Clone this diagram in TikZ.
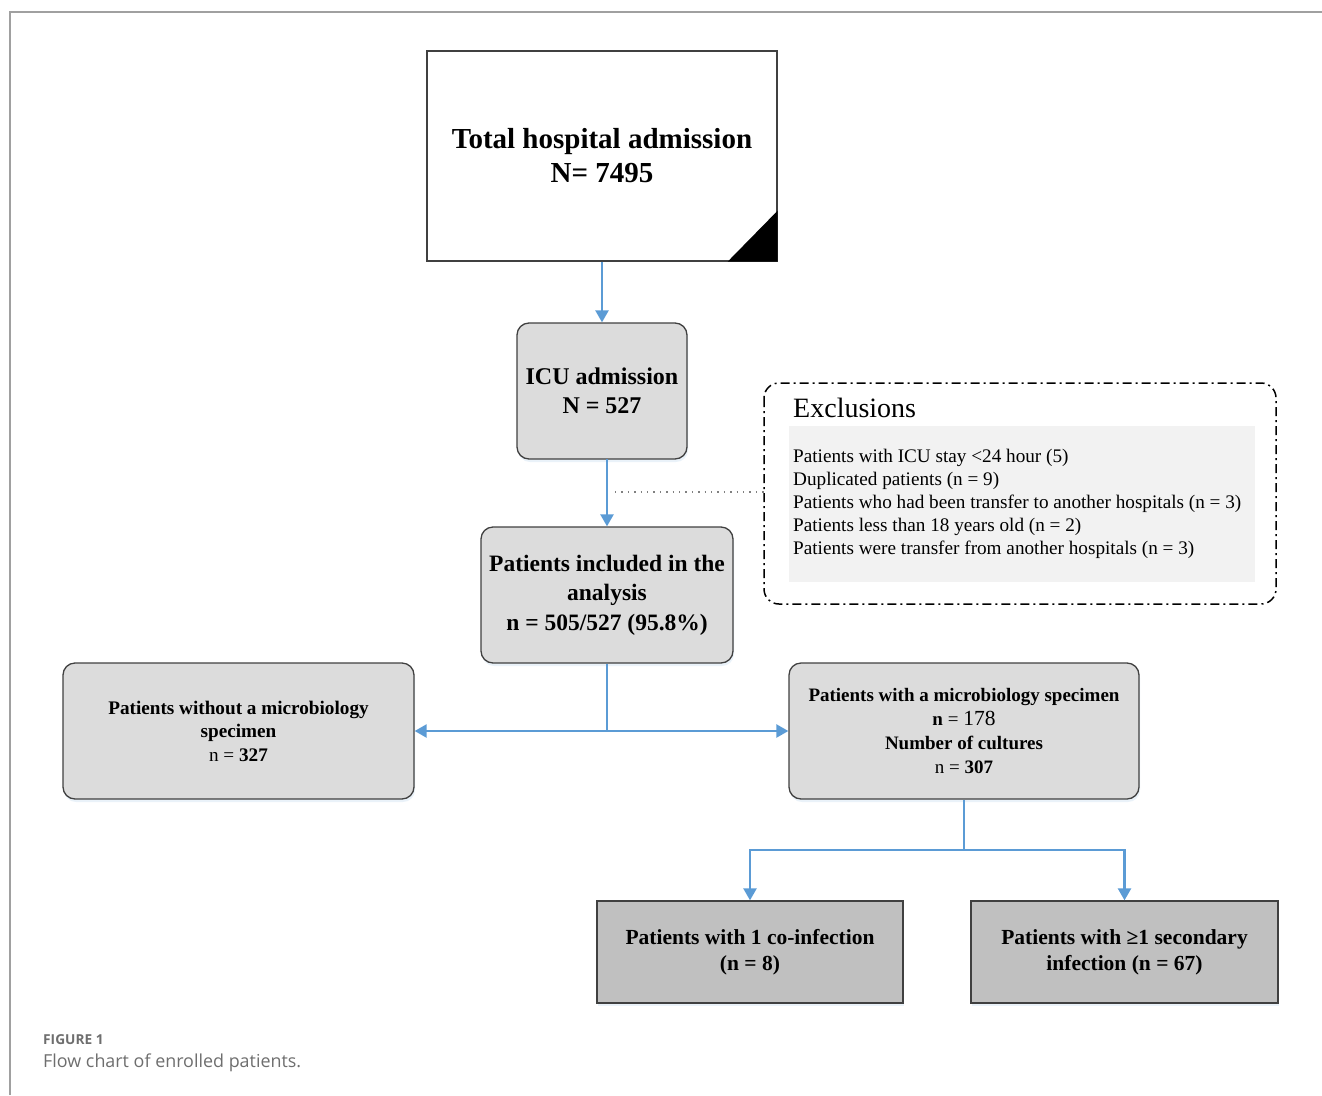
\documentclass[tikz,border=0pt]{standalone}
\usepackage{fontspec}
\setmainfont{Liberation Serif}
\newfontfamily\capfont{Open Sans}
\usetikzlibrary{arrows.meta,shadows}
\definecolor{flowblue}{RGB}{91,155,213}
\definecolor{boxgray}{RGB}{220,220,220}
\definecolor{darkgray2}{RGB}{192,192,192}
\definecolor{edgegray}{RGB}{64,64,64}
\definecolor{exclfill}{RGB}{242,242,242}
\definecolor{framegray}{RGB}{160,160,160}
\definecolor{capgray}{RGB}{110,110,110}
\begin{document}
\begin{tikzpicture}[x=1pt,y=-1pt,
  softshadow/.style={drop shadow={shadow xshift=1pt,shadow yshift=-3pt,fill=flowblue!25,opacity=0.5}},
  roundbox/.style={draw=edgegray,line width=1.3pt,fill=boxgray,rounded corners=12pt,align=center,inner sep=2pt,softshadow},
  flatbox/.style={draw=edgegray,line width=1.3pt,fill=darkgray2,align=center,inner sep=2pt,softshadow},
  flow/.style={draw=flowblue,line width=2.4pt},
  flowarrow/.style={flow,-{Triangle[width=13pt,length=12pt]}},
]
\useasboundingbox (0,0) rectangle (1322,1095);
% frame
\draw[framegray,line width=1.3pt] (10,1095) -- (10,12) -- (1322,12);

% top box
\node[draw=edgegray,line width=1.3pt,fill=white,minimum width=350pt,minimum height=210pt,inner sep=0pt,align=center,
  font=\fontsize{29}{34}\selectfont\bfseries] (total) at (602,156) {Total hospital admission\\N= 7495};
\fill[black] (total.south east) -- ++(-50,0) -- ++(50,-51) -- cycle;

% ICU
\node[roundbox,minimum width=170pt,minimum height=136pt,font=\fontsize{24}{29}\selectfont\bfseries] (icu) at (602,391) {ICU admission\\N = 527};
\draw[flowarrow] (total.south) -- (icu.north);

% included
\node[roundbox,minimum width=252pt,minimum height=136pt,font=\fontsize{23.5}{29.5}\selectfont\bfseries] (incl) at (607,595) {Patients included in the\\analysis\\n = 505/527 (95.8\%)};

% exclusions
\coordinate (exnw) at (764,383);
\coordinate (exse) at (1276,604);
\draw[line width=1.5pt,rounded corners=15pt,dash pattern=on 9pt off 4pt on 2pt off 4pt] (exnw) rectangle (exse);
\node[fill=exclfill,minimum width=466pt,minimum height=156pt,inner sep=0pt] (exfill) at (1022,504) {};
\node[anchor=west,inner sep=0pt,font=\fontsize{28}{30}\selectfont] (extitle) at (793,408) {Exclusions};
\node[anchor=west,inner sep=0pt,align=left,font=\fontsize{19.2}{23}\selectfont] (exlist) at (793,504) {Patients with ICU stay <24 hour (5)\\Duplicated patients (n = 9)\\Patients who had been transfer to another hospitals (n = 3)\\Patients less than 18 years old (n = 2)\\Patients were transfer from another hospitals (n = 3)};

% flow arrows
\coordinate (icuout) at (607,459);
\draw[flowarrow] (icuout) -- (incl.north);
\coordinate (dotstart) at (615,492);
\draw[line width=1.2pt,gray,dash pattern=on 1.4pt off 5pt] (dotstart) -- (exnw |- dotstart);

% left and right
\node[roundbox,minimum width=351pt,minimum height=136pt,font=\fontsize{19.2}{23.5}\selectfont\bfseries] (without) at (238.5,731) {Patients without a microbiology\\specimen\\\mdseries n = \bfseries 327};
\node[roundbox,minimum width=350pt,minimum height=136pt,font=\fontsize{19}{24.3}\selectfont\bfseries] (with) at (964,731) {Patients with a microbiology specimen\\n \mdseries= \fontsize{21.5}{24.3}\selectfont 178\\\fontsize{19}{24.3}\selectfont\bfseries Number of cultures\\\mdseries n = \bfseries 307};

\coordinate (split) at (607,731);
\draw[flow] (incl.south) -- (split);
\draw[flowarrow] (split) -- (without.east);
\draw[flowarrow] (split) -- (with.west);

% bottom boxes
\node[flatbox,minimum width=306pt,minimum height=102pt,font=\fontsize{21.5}{26}\selectfont\bfseries] (coinf) at (750,952) {Patients with 1 co-infection\\(n = 8)};
\node[flatbox,minimum width=307pt,minimum height=102pt,font=\fontsize{21.5}{26}\selectfont\bfseries] (secinf) at (1124.5,952) {Patients with ≥1 secondary\\infection (n = 67)};

\coordinate (split2) at (964,850);
\draw[flow] (with.south) -- (split2);
\draw[flowarrow] (split2) -| (coinf.north);
\draw[flowarrow] (split2) -| (secinf.north);

% caption
\node[anchor=west,inner sep=0pt,text=capgray,font=\capfont\fontsize{13.7}{15}\selectfont\bfseries] (figlabel) at (43,1040) {FIGURE 1};
\node[anchor=west,inner sep=0pt,text=capgray,font=\capfont\fontsize{17.9}{20}\selectfont] (figcap) at (43,1063) {Flow chart of enrolled patients.};
\end{tikzpicture}
\end{document}
